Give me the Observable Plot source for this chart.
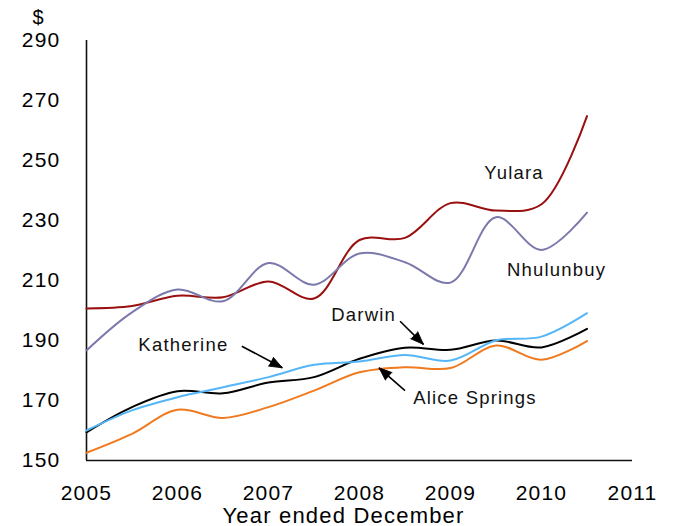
<!DOCTYPE html>
<html>
<head>
<meta charset="utf-8">
<script src="https://cdn.jsdelivr.net/npm/d3@7"></script>
<script src="https://cdn.jsdelivr.net/npm/@observablehq/plot@0.6"></script>
<style>
  body { margin: 0; background: #fff; }
  #chart svg text { letter-spacing: 1.2px; }
</style>
</head>
<body>
<div id="chart"></div>
<script>
// Half-yearly observation points (year ended December)
const periods = [2005, 2005.5, 2006, 2006.5, 2007, 2007.5, 2008, 2008.5, 2009, 2009.5, 2010, 2010.5];

const yulara       = [200.7, 201.5, 204.9, 204.4, 209.7, 204.0, 223.5, 224.2, 235.8, 233.3, 235.4, 264.8];
const nhulunbuy    = [186.7, 199.4, 207.0, 203.1, 215.8, 208.6, 219.0, 216.1, 209.3, 231.1, 220.2, 232.6];
const darwin       = [159.4, 167.8, 173.1, 172.4, 176.0, 177.8, 183.9, 187.6, 186.9, 190.0, 187.7, 193.9];
const katherine    = [160.0, 166.7, 171.1, 174.4, 177.8, 181.9, 183.0, 185.2, 183.3, 190.0, 191.3, 199.1];
const aliceSprings = [152.6, 158.9, 166.9, 164.2, 167.8, 173.3, 179.4, 181.1, 180.8, 188.3, 183.6, 189.8];

const seriesNames  = ["Yulara", "Nhulunbuy", "Darwin", "Katherine", "Alice Springs"];
const seriesValues = [yulara, nhulunbuy, darwin, katherine, aliceSprings];
const seriesColors = ["#9a0f0f", "#7b79ac", "#000000", "#55b6f7", "#ef7a1f"];

const xTickLabels = [2005, 2006, 2007, 2008, 2009, 2010, 2011];
const yTickLabels = [150, 170, 190, 210, 230, 250, 270, 290];

// Label annotations (data coordinates)
const labelText = ["Yulara", "Nhulunbuy", "Darwin", "Katherine", "Alice Springs"];
const labelX    = [2009.37, 2009.62, 2007.69, 2005.57, 2008.59];
const labelY    = [245.9, 213.6, 198.4, 188.4, 170.8];

// Arrow annotations (data coordinates)
const arrowFromX = [2006.707, 2008.446, 2008.50];
const arrowFromY = [188.1, 196.4, 173.3];
const arrowToX   = [2007.152, 2008.703, 2008.214];
const arrowToY   = [180.9, 188.7, 180.9];

const rows = seriesNames.flatMap((name, i) =>
  periods.map((p, j) => ({series: name, period: p, value: seriesValues[i][j]}))
);
const labels = labelText.map((t, i) => ({text: t, x: labelX[i], y: labelY[i]}));
const arrows = arrowFromX.map((x, i) => ({x1: x, y1: arrowFromY[i], x2: arrowToX[i], y2: arrowToY[i]}));

function build(xScale, yScale) {
  // arrowhead rotation (degrees clockwise from north) from the pixel direction
  const heads = arrows.map(a => {
    let rot = 0;
    if (xScale && yScale) {
      const dx = xScale.apply(a.x2) - xScale.apply(a.x1);
      const dy = yScale.apply(a.y2) - yScale.apply(a.y1);
      rot = Math.atan2(dx, -dy) * 180 / Math.PI;
    }
    return {...a, rot};
  });
  return Plot.plot({
    width: 676,
    height: 526,
    marginLeft: 86,
    marginRight: 44,
    marginTop: 40,
    marginBottom: 66,
    style: {fontFamily: "'Liberation Sans', Arial, sans-serif", fontSize: "21px", background: "#fff", color: "#000"},
    x: {domain: [2005, 2011]},
    y: {domain: [150, 290]},
    color: {domain: seriesNames, range: seriesColors},
    marks: [
      Plot.axisX({ticks: xTickLabels, tickSize: 0, tickPadding: 25, tickFormat: d => String(d), label: null, fontSize: 21}),
      Plot.axisY({ticks: yTickLabels, tickSize: 0, tickPadding: 26, label: null, fontSize: 21}),
      Plot.ruleX([2005], {stroke: "#111", strokeWidth: 1.6}),
      Plot.ruleY([150], {stroke: "#111", strokeWidth: 1.6}),
      Plot.line(rows, {x: "period", y: "value", z: "series", stroke: "series", strokeWidth: 2, curve: "catmull-rom"}),
      Plot.text(labels, {x: "x", y: "y", text: "text", textAnchor: "start", fontSize: 18.5, fill: "#111"}),
      Plot.link(arrows, {x1: "x1", y1: "y1", x2: "x2", y2: "y2", stroke: "#000", strokeWidth: 1.6}),
      Plot.vector(heads, {x: "x2", y: "y2", rotate: "rot", length: 13, anchor: "end", shape: "spike", r: 5, fill: "#000", stroke: "#000", strokeWidth: 0.8}),
      Plot.text(["$"], {frameAnchor: "top-left", dx: -54, dy: -31, fontSize: 20, fill: "#000"}),
      Plot.text(["Year ended December"], {frameAnchor: "bottom", dx: -16, dy: 62, fontSize: 22, fill: "#000"})
    ]
  });
}

const probe = build(null, null);
const chart = build(probe.scale("x"), probe.scale("y"));
document.getElementById("chart").appendChild(chart);
</script>
</body>
</html>
